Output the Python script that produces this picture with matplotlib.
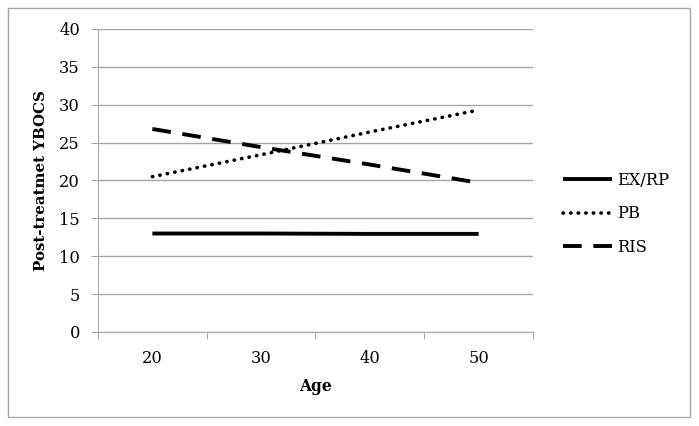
import matplotlib

matplotlib.use("Agg")
import matplotlib.pyplot as plt
from matplotlib.patches import Rectangle
import numpy as np

ages = ["20", "30", "40", "50"]
exrp = [13.0, 13.0, 12.95, 12.95]
pb = [20.5, 23.4, 26.4, 29.3]
ris = [26.8, 24.4, 22.1, 19.7]
yticks = [0, 5, 10, 15, 20, 25, 30, 35, 40]

plt.rcParams["font.family"] = ["DejaVu Serif"]
grey = "#a6a6a6"

fig = plt.figure(figsize=(6.99, 4.26), dpi=100)
ax = fig.add_axes([0.1402, 0.2207, 0.6223, 0.7113])

x = np.arange(len(ages))
ax.plot(x, exrp, color="black", lw=2.8, solid_capstyle="butt", label="EX/RP")
ax.plot(x, pb, color="black", lw=2.6, linestyle=(0, (0.1, 2.0)), dash_capstyle="round", label="PB")
ax.plot(x, ris, color="black", lw=2.8, linestyle=(0, (4.8, 3.0)), dash_capstyle="butt", label="RIS")

ax.set_xlim(-0.5, len(ages) - 0.5)
ax.set_ylim(0, 40)
ax.set_yticks(yticks)
ax.set_yticklabels([str(v) for v in yticks], fontsize=11.7)
ax.yaxis.grid(True, color=grey, lw=1)
ax.set_axisbelow(True)

ax.set_xticks(np.arange(-0.5, len(ages), 1.0))
ax.set_xticklabels([])
ax.set_xticks(x, minor=True)
ax.set_xticklabels(ages, minor=True, fontsize=11.7)
ax.tick_params(axis="x", which="major", length=5, color=grey, direction="out")
ax.tick_params(axis="x", which="minor", length=0, pad=13)
ax.tick_params(axis="y", length=5, color=grey, pad=8)

for s in ["top", "right"]:
    ax.spines[s].set_visible(False)
for s in ["left", "bottom"]:
    ax.spines[s].set_color(grey)

ax.set_xlabel("Age", fontsize=11.2, fontweight="bold", labelpad=8)
ax.set_ylabel("Post-treatmet YBOCS", fontsize=10.8, fontweight="bold", labelpad=8)

leg = ax.legend(loc="center left", bbox_to_anchor=(1.05, 0.39), frameon=False, borderpad=0,
                fontsize=11.7, handlelength=3.0, handletextpad=0.35, labelspacing=1.0)

fig.patches.append(Rectangle((8 / 699, 9 / 426), 682 / 699, 409 / 426, transform=fig.transFigure,
                             fill=False, edgecolor=grey, lw=1))

fig.savefig("out.png", dpi=100)
